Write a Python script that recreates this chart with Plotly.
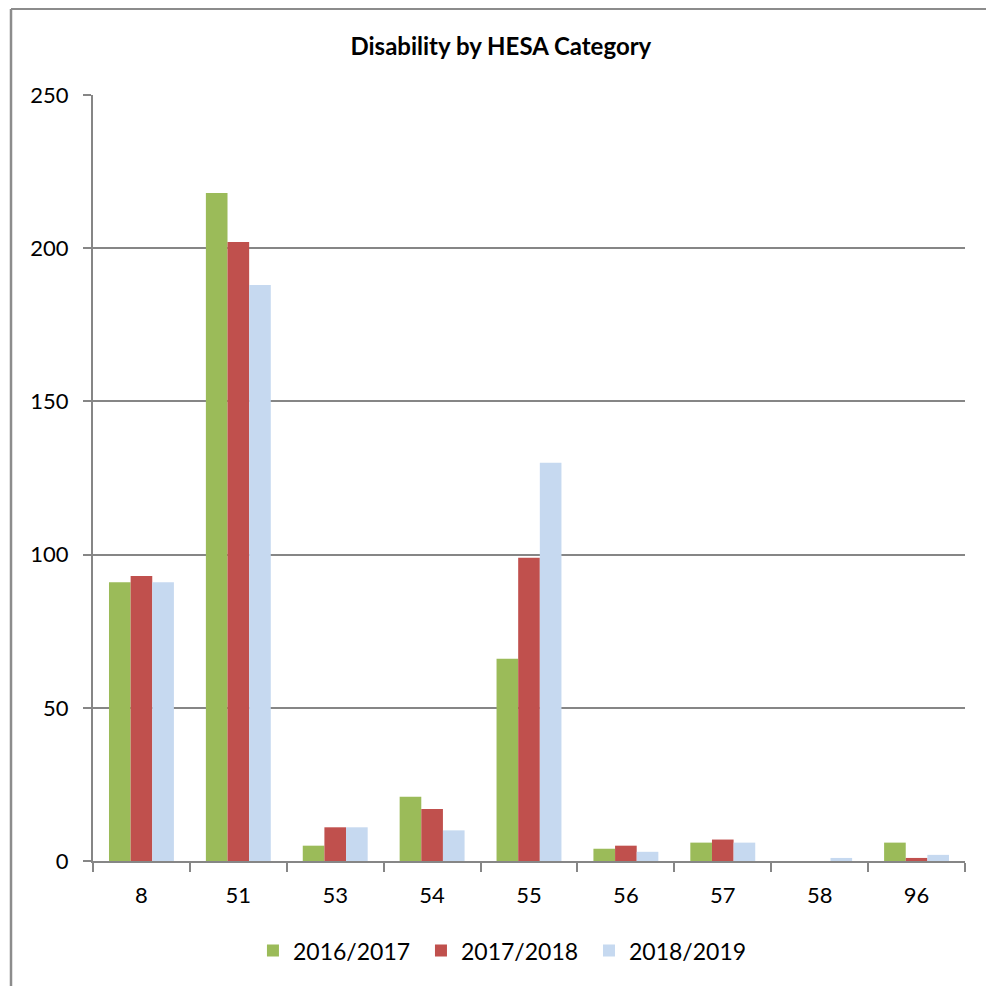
import plotly.graph_objects as go

categories = ["8", "51", "53", "54", "55", "56", "57", "58", "96"]
series_names = ["2016/2017", "2017/2018", "2018/2019"]
values_2016 = [91, 218, 5, 21, 66, 4, 6, 0, 6]
values_2017 = [93, 202, 11, 17, 99, 5, 7, 0, 1]
values_2018 = [91, 188, 11, 10, 130, 3, 6, 1, 2]
colors = ["#9BBB59", "#C0504D", "#C6D9F0"]
y_ticks = [0, 50, 100, 150, 200, 250]

fig = go.Figure()
for name, vals, col in zip(series_names, [values_2016, values_2017, values_2018], colors):
    fig.add_trace(go.Bar(x=categories, y=vals, name=name + "\u00a0",
                         marker=dict(color=col, line=dict(width=0))))

FONT = "Lato, 'Open Sans', sans-serif"
fig.update_layout(
    width=986, height=986,
    margin=dict(l=93, r=21, t=95, b=125, autoexpand=False),
    paper_bgcolor="white", plot_bgcolor="white",
    barmode="group", bargap=0.33, bargroupgap=0,
    font=dict(family=FONT, size=22, color="#000000"),
    title=dict(text="<b>Disability by HESA Category</b>", x=0.508, xanchor="center",
               y=1 - 47/986, yanchor="middle", font=dict(size=24, family=FONT)),
    showlegend=True,
    legend=dict(orientation="h", x=0.473, xanchor="center", y=-0.089, yanchor="top",
                font=dict(size=23, family=FONT), itemwidth=30, traceorder="normal"),
    xaxis=dict(type="category", showline=True, linecolor="#868686", linewidth=2,
               ticks="outside", tickson="boundaries", ticklen=9, tickcolor="#868686", tickwidth=2,
               showgrid=False, tickfont=dict(size=22), ticklabelstandoff=14),
    yaxis=dict(range=[0, 250], tickvals=y_ticks, showline=True, linecolor="#868686", linewidth=2,
               ticks="outside", ticklen=8, tickcolor="#868686", tickwidth=2,
               showgrid=True, gridcolor="#868686", gridwidth=1.5, zeroline=False,
               tickfont=dict(size=22), ticklabelstandoff=10),
    shapes=[
        dict(type="line", xref="paper", yref="paper", x0=-82/872, x1=1 + 21/872,
             y0=1 + 86/766, y1=1 + 86/766, line=dict(color="#8C8C8C", width=2)),
        dict(type="line", xref="paper", yref="paper", x0=-82/872, x1=-82/872,
             y0=1 + 86/766, y1=-125/766, line=dict(color="#8C8C8C", width=2.5)),
    ],
)

fig.write_html("out.html")
